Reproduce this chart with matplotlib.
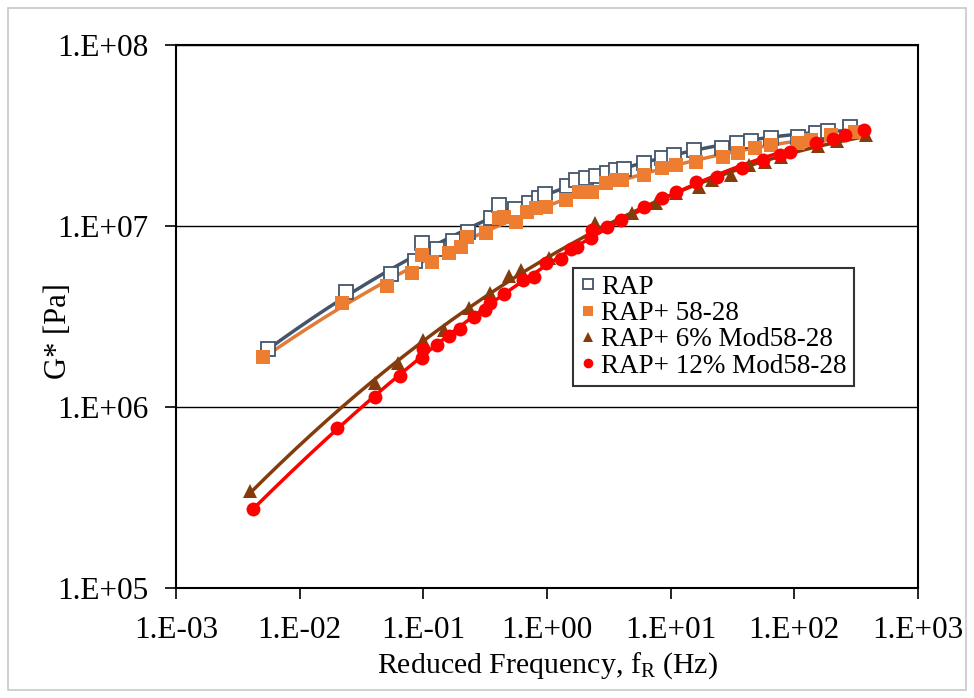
import numpy as np
import matplotlib
matplotlib.use("Agg")
import matplotlib.pyplot as plt
from matplotlib.patches import Rectangle
from matplotlib.ticker import FixedLocator, FixedFormatter, NullLocator

plt.rcParams['font.family'] = ['Liberation Serif', 'DejaVu Serif']
plt.rcParams['mathtext.fontset'] = 'custom'
plt.rcParams['mathtext.rm'] = 'Liberation Serif'
plt.rcParams['mathtext.it'] = 'Liberation Serif:italic'

# ---------------- data ----------------
rap_f = [5.52e-3, 2.35e-2, 5.52e-2, 8.6e-2, 9.8e-2, 0.130, 0.175, 0.231, 0.353, 0.410,
         0.552, 0.716, 0.861, 0.963, 1.45, 1.71, 2.06, 2.48, 3.05, 3.60, 4.18, 6.05,
         8.45, 10.6, 15.3, 25.8, 34.7, 45.0, 65.3, 108, 150, 188, 283]
rap_g = [2.09e6, 4.32e6, 5.43e6, 6.41e6, 8.05e6, 7.46e6, 8.26e6, 9.27e6, 1.107e7, 1.306e7,
         1.242e7, 1.34e7, 1.43e7, 1.50e7, 1.66e7, 1.80e7, 1.84e7, 1.89e7, 1.96e7, 2.04e7,
         2.06e7, 2.23e7, 2.38e7, 2.47e7, 2.63e7, 2.70e7, 2.87e7, 2.95e7, 3.06e7, 3.10e7,
         3.27e7, 3.35e7, 3.53e7]

b58_f = [5.04e-3, 2.22e-2, 5.13e-2, 8.15e-2, 9.8e-2, 0.118, 0.162, 0.202, 0.226, 0.322,
         0.410, 0.450, 0.562, 0.690, 0.815, 0.98, 1.42, 1.81, 2.31, 2.99, 3.60, 4.03,
         6.05, 8.45, 11.0, 15.9, 26.7, 35.3, 48.4, 65.3, 108, 137, 199, 310]
b58_g = [1.89e6, 3.76e6, 4.67e6, 5.50e6, 6.92e6, 6.32e6, 7.10e6, 7.66e6, 8.69e6, 9.14e6,
         1.107e7, 1.12e7, 1.05e7, 1.19e7, 1.26e7, 1.27e7, 1.39e7, 1.54e7, 1.54e7, 1.73e7,
         1.80e7, 1.80e7, 1.91e7, 2.09e7, 2.17e7, 2.26e7, 2.41e7, 2.53e7, 2.70e7, 2.80e7,
         2.88e7, 2.99e7, 3.18e7, 3.31e7]

m6_f = [3.95e-3, 4.03e-2, 6.28e-2, 0.100, 0.148, 0.235, 0.347, 0.494, 0.617, 1.04,
        2.44, 4.84, 7.57, 11.0, 16.8, 21.4, 31.0, 42.6, 58.3, 78.5, 156, 222, 381]
m6_g = [3.43e5, 1.36e6, 1.75e6, 2.34e6, 2.66e6, 3.52e6, 4.26e6, 5.30e6, 5.71e6, 6.65e6,
        1.04e7, 1.18e7, 1.34e7, 1.52e7, 1.64e7, 1.80e7, 1.91e7, 2.17e7, 2.26e7, 2.41e7,
        2.77e7, 2.95e7, 3.18e7]

m12_f = [4.18e-3, 1.99e-2, 4.03e-2, 6.53e-2, 9.8e-2, 0.100, 0.130, 0.162, 0.199, 0.258,
         0.316, 0.347, 0.450, 0.640, 0.785, 0.98, 1.30, 1.56, 1.75, 2.26, 2.31, 3.05,
         3.95, 6.05, 8.45, 11.0, 15.9, 23.5, 37.4, 56.2, 77.1, 92.8, 150, 206, 258, 367]
m12_g = [2.73e5, 7.66e5, 1.14e6, 1.48e6, 1.87e6, 2.09e6, 2.20e6, 2.47e6, 2.70e6, 3.14e6,
         3.43e6, 3.76e6, 4.21e6, 5.03e6, 5.23e6, 6.25e6, 6.57e6, 7.46e6, 7.66e6, 8.59e6,
         9.50e6, 9.87e6, 1.08e7, 1.27e7, 1.43e7, 1.54e7, 1.75e7, 1.87e7, 2.09e7, 2.32e7,
         2.47e7, 2.56e7, 2.88e7, 3.03e7, 3.18e7, 3.39e7]

labels = ["RAP", "RAP+ 58-28", "RAP+ 6% Mod58-28", "RAP+ 12% Mod58-28"]

x_ticks = [1e-3, 1e-2, 1e-1, 1e0, 1e1, 1e2, 1e3]
x_tick_labels = ["1.E-03", "1.E-02", "1.E-01", "1.E+00", "1.E+01", "1.E+02", "1.E+03"]
y_ticks = [1e5, 1e6, 1e7, 1e8]
y_tick_labels = ["1.E+05", "1.E+06", "1.E+07", "1.E+08"]

# ---------------- plot ----------------
fig = plt.figure(figsize=(9.74, 6.98), dpi=100)
fig.patches.append(Rectangle((0.008, 0.012), 0.984, 0.976, transform=fig.transFigure,
                             fill=False, edgecolor='#c8c8c8', linewidth=1.2))
ax = fig.add_axes([176/974, 1-588/698, 742/974, 543/698])

series = [
    (rap_f, rap_g, dict(marker='s', mfc='white', mec='#44546A', ms=9.5, mew=1.3), '#44546A'),
    (b58_f, b58_g, dict(marker='s', mfc='#ED7D31', mec='#ED7D31', ms=9.5, mew=0), '#E07B39'),
    (m6_f, m6_g, dict(marker='^', mfc='#843C0C', mec='#843C0C', ms=10, mew=0), '#843C0C'),
    (m12_f, m12_g, dict(marker='o', mfc='#FF0000', mec='#FF0000', ms=10, mew=0), '#FF0000'),
]

for (f, g, mk, lc), lab in zip(series, labels):
    lf = np.log10(f)
    lg = np.log10(g)
    coef = np.polyfit(lf, lg, 3)
    xx = np.linspace(lf.min(), lf.max(), 200)
    ax.plot(10**xx, 10**np.polyval(coef, xx), color=lc, lw=2.5, zorder=2)
    ax.plot(f, g, linestyle='none', label=lab, zorder=3, **mk)

ax.set_xscale('log')
ax.set_yscale('log')
ax.set_xlim(1e-3, 1e3)
ax.set_ylim(1e5, 1e8)
ax.xaxis.set_major_locator(FixedLocator(x_ticks))
ax.xaxis.set_major_formatter(FixedFormatter(x_tick_labels))
ax.yaxis.set_major_locator(FixedLocator(y_ticks))
ax.yaxis.set_major_formatter(FixedFormatter(y_tick_labels))
ax.xaxis.set_minor_locator(NullLocator())
ax.yaxis.set_minor_locator(NullLocator())
ax.tick_params(axis='both', which='major', direction='out', length=8, width=1.2,
               labelsize=22.5, colors='black')
ax.tick_params(axis='x', pad=12)
ax.tick_params(axis='y', pad=12)
ax.yaxis.grid(True, color='black', linewidth=1.0)
ax.set_axisbelow(True)
for s in ax.spines.values():
    s.set_linewidth(1.5)
    s.set_color('black')

ax.set_xlabel(r"Reduced Frequency, f$_\mathregular{R}$ (Hz)", fontsize=21.5)
ax.xaxis.set_label_coords(0.5, (588-650)/543)
ax.set_ylabel("G* [Pa]", fontsize=22)
ax.yaxis.set_label_coords((58-176)/742, (588-331)/543)
ax.yaxis.label.set_va('center')

leg = ax.legend(loc='upper left', bbox_to_anchor=((573-176)/742, 1-(268-45)/543),
                frameon=True, fancybox=False, fontsize=19.5, handlelength=0.6,
                handletextpad=0.2, labelspacing=0.05, borderpad=0.25, borderaxespad=0,
                markerscale=0.7)
leg.get_frame().set_edgecolor('black')
leg.get_frame().set_linewidth(1.5)

fig.savefig("out.png", dpi=100)
